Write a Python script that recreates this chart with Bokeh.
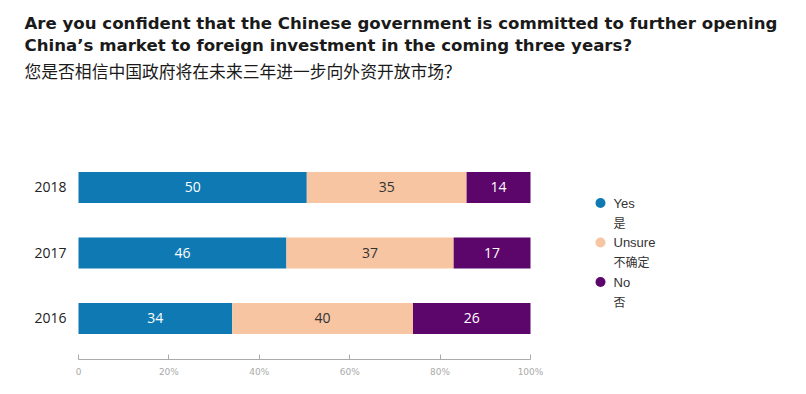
from bokeh.plotting import figure
from bokeh.models import FixedTicker, Range1d, ColumnDataSource
from bokeh.core.properties import value
from bokeh.embed import file_html
from bokeh.resources import INLINE

# ---- data ----
years = ["2016", "2017", "2018"]
yes = [34, 46, 50]
unsure = [40, 37, 35]
no = [26, 17, 14]
series_en = ["Yes", "Unsure", "No"]
series_zh = ["是", "不确定", "否"]
colors = ["#0e79b2", "#f7c5a2", "#5c066b"]
label_colors = ["#ffffff", "#333333", "#ffffff"]
ticks = [0, 20, 40, 60, 80, 100]
tick_labels = ["0", "20%", "40%", "60%", "80%", "100%"]
title1 = "Are you confident that the Chinese government is committed to further opening"
title2 = "China\u2019s market to foreign investment in the coming three years?"
title3 = "您是否相信中国政府将在未来三年进一步向外资开放市场？"

# ---- layout constants (pixels) ----
W, H = 800, 390
BAR_L, FRAME_B = 78, 359            # 0% position / frame bottom on the canvas
PX_X = 4.52                          # pixels per percent
PX_Y = 65.5                          # pixels per category step
Y0 = -0.626                          # data value at frame bottom


def dx(px):   # canvas x pixel -> data x
    return (px - BAR_L) / PX_X


def dy(py):   # canvas y pixel -> data y
    return Y0 + (FRAME_B - py) / PX_Y


p = figure(width=W, height=H, output_backend="svg", toolbar_location=None,
           x_range=Range1d(dx(0), dx(W)), y_range=Range1d(Y0, dy(0)),
           min_border_left=0, min_border_right=0,
           min_border_bottom=H - FRAME_B, min_border_top=0)
p.outline_line_color = None
p.xgrid.visible = False
p.ygrid.visible = False
p.yaxis.visible = False
p.background_fill_color = "white"
p.border_fill_color = "white"

# titles
for txt, mid, font, size, style in [
        (title1, 22.5, "DejaVu Sans", "16.6px", "bold"),
        (title2, 44.5, "DejaVu Sans", "16.6px", "bold"),
        (title3, 70.5, "Noto Sans CJK SC", "16.8px", "normal")]:
    p.text(x=[dx(24)], y=[dy(mid)], text=[txt], text_font=value(font),
           text_font_size=size, text_font_style=style,
           text_color="#1a1a1a", text_align="left",
           text_baseline="middle")

ypos = list(range(len(years)))
series = [yes, unsure, no]
totals = [a + b + c for a, b, c in zip(yes, unsure, no)]
left = [0.0] * len(years)
for vals, col, lc in zip(series, colors, label_colors):
    share = [v / t * 100 for v, t in zip(vals, totals)]
    right = [l + s for l, s in zip(left, share)]
    src = ColumnDataSource(dict(y=ypos, left=left, right=right,
                                mid=[(l + r) / 2 for l, r in zip(left, right)],
                                txt=[str(v) for v in vals]))
    p.hbar(y="y", left="left", right="right", height=0.47, source=src,
           fill_color=col, line_color=None)
    p.text(x="mid", y="y", text="txt", source=src, text_align="center",
           text_baseline="middle", text_color=lc,
           text_font=value("Open Sans"), text_font_size="14px")
    left = right

# category labels
p.text(x=[dx(66)] * len(years), y=ypos, text=years, text_align="right",
       text_baseline="middle", text_color="#222222",
       text_font=value("Open Sans"), text_font_size="14px")

# legend (manual, two-line labels)
leg_py = [202.5, 242, 281.5]
leg_y = [dy(v) for v in leg_py]
p.scatter(x=[dx(600)] * 3, y=leg_y, size=10, marker="circle",
          fill_color=colors, line_color=None)
p.text(x=[dx(613)] * 3, y=leg_y, text=series_en, text_align="left",
       text_baseline="middle", text_color="#333333",
       text_font=value("Liberation Sans"), text_font_size="13px")
p.text(x=[dx(613)] * 3, y=[dy(v + 19) for v in leg_py], text=series_zh,
       text_align="left", text_baseline="middle", text_color="#333333",
       text_font=value("Noto Sans CJK SC"), text_font_size="12px")

# x axis
xa = p.xaxis[0]
xa.ticker = FixedTicker(ticks=ticks)
xa.major_label_overrides = {t: l for t, l in zip(ticks, tick_labels)}
xa.bounds = (0, 100)
xa.axis_line_color = "#aaaaaa"
xa.major_tick_line_color = "#aaaaaa"
xa.major_tick_in = 5
xa.major_tick_out = 0
xa.minor_tick_line_color = None
xa.major_label_standoff = 7
xa.major_label_text_font = "DejaVu Sans"
xa.major_label_text_font_size = "9px"
xa.major_label_text_color = "#aaaaaa"

open("out.html", "w").write(file_html(p, INLINE))
